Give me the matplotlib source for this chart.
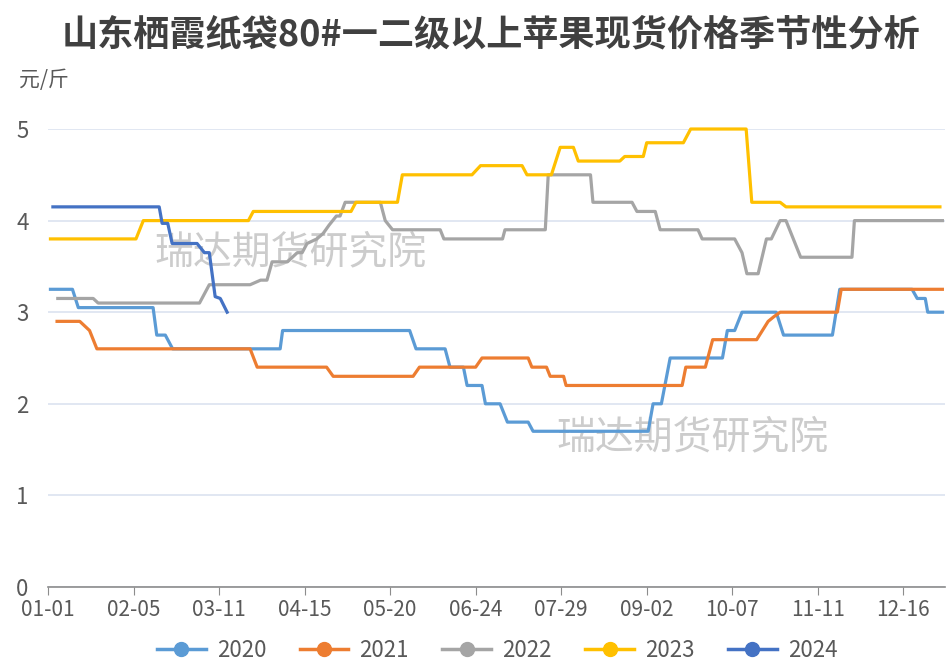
import matplotlib
matplotlib.use('Agg')
import matplotlib.pyplot as plt
from matplotlib.lines import Line2D

plt.rcParams['font.family'] = ['Noto Sans CJK SC', 'DejaVu Sans']

# 横轴: 一年中的第几天 (0 = 01-01), 纵轴: 元/斤
tick_days = [0, 35, 70, 105, 140, 175, 210, 245, 280, 315, 350]
tick_labels = ['01-01', '02-05', '03-11', '04-15', '05-20', '06-24',
               '07-29', '09-02', '10-07', '11-11', '12-16']

years = ['2020', '2021', '2022', '2023', '2024']
colors = ['#5B9BD5', '#ED7D31', '#A5A5A5', '#FFC000', '#4472C4']

# 各年价格拐点 (从图上读出来的)
d2020 = [1, 10, 12.4, 43, 44.5, 48, 51, 95, 96, 148, 150.6, 162.5, 164.5, 170, 171.5,
         177.6, 179, 185, 188, 196.5, 198.5, 245.6, 247.6, 251, 254.6, 276, 278, 281,
         284, 298, 301, 321, 324, 353.6, 355.7, 359, 360, 366]
v2020 = [3.25, 3.25, 3.05, 3.05, 2.75, 2.75, 2.6, 2.6, 2.8, 2.8, 2.6, 2.6, 2.4, 2.4, 2.2,
         2.2, 2.0, 2.0, 1.8, 1.8, 1.7, 1.7, 2.0, 2.0, 2.5, 2.5, 2.8, 2.8,
         3.0, 3.0, 2.75, 2.75, 3.25, 3.25, 3.15, 3.15, 3.0, 3.0]

d2021 = [3.7, 13, 17, 20, 82.7, 85.6, 114, 116.7, 149.4, 152, 175, 177.6, 196.5, 198,
         204, 205.5, 211, 212, 259.5, 261, 269, 272, 290, 294.7, 297, 299.6, 323, 324.6, 366]
v2021 = [2.9, 2.9, 2.8, 2.6, 2.6, 2.4, 2.4, 2.3, 2.3, 2.4, 2.4, 2.5, 2.5, 2.4,
         2.4, 2.3, 2.3, 2.2, 2.2, 2.4, 2.4, 2.7, 2.7, 2.9, 2.95, 3.0, 3.0, 3.25, 3.25]

d2022 = [4, 18.5, 20.5, 62, 66, 82.7, 87, 89.6, 91.7, 98, 102, 104, 106, 110, 112.6, 115,
         118, 119.5, 121.6, 136, 138, 141, 160.5, 162, 186, 187, 203.5, 204.7, 222, 223,
         239, 241, 248.5, 250.5, 266, 267.7, 281, 284, 286, 290.6, 294, 296, 299.6, 302,
         308, 329, 330, 366]
v2022 = [3.15, 3.15, 3.1, 3.1, 3.3, 3.3, 3.35, 3.35, 3.55, 3.55, 3.65, 3.65, 3.75, 3.8, 3.86, 3.95,
         4.05, 4.05, 4.2, 4.2, 4.0, 3.9, 3.9, 3.8, 3.8, 3.9, 3.9, 4.5, 4.5, 4.2,
         4.2, 4.1, 4.1, 3.9, 3.9, 3.8, 3.8, 3.65, 3.42, 3.42, 3.8, 3.8, 4.0, 4.0,
         3.6, 3.6, 4.0, 4.0]

d2023 = [1, 36, 39, 82, 84, 124, 126, 143, 145, 173.5, 177, 194, 196, 206, 209.6, 215,
         217, 234, 236, 243.6, 245, 260, 263, 285.7, 288, 299.6, 302, 365]
v2023 = [3.8, 3.8, 4.0, 4.0, 4.1, 4.1, 4.2, 4.2, 4.5, 4.5, 4.6, 4.6, 4.5, 4.5, 4.8, 4.8,
         4.65, 4.65, 4.7, 4.7, 4.85, 4.85, 5.0, 5.0, 4.2, 4.2, 4.15, 4.15]

d2024 = [2, 45.5, 46.7, 49, 50.8, 61, 64, 66, 68.4, 70.5, 73.3]
v2024 = [4.15, 4.15, 3.97, 3.97, 3.75, 3.75, 3.65, 3.65, 3.17, 3.15, 3.0]

series = [(d2020, v2020), (d2021, v2021), (d2022, v2022), (d2023, v2023), (d2024, v2024)]

fig = plt.figure(figsize=(9.47, 6.64), dpi=100)
ax = fig.add_axes([0.0507, 0.116, 0.947, 0.6897])

for (d, v), c in zip(series, colors):
    ax.plot(d, v, color=c, lw=2.3, solid_joinstyle='round', clip_on=False, zorder=3)

ax.set_xlim(0, 367)
ax.set_ylim(0, 5)
ax.set_yticks([0, 1, 2, 3, 4, 5])
ax.set_xticks(tick_days)
ax.set_xticklabels(tick_labels)
ax.grid(axis='y', color='#dce3f0', lw=1.2)
ax.set_axisbelow(True)
for s in ['left', 'right', 'top']:
    ax.spines[s].set_visible(False)
ax.spines['bottom'].set_color('#8c8c8c')
ax.spines['bottom'].set_linewidth(1.2)
ax.tick_params(axis='y', length=0, labelsize=16, labelcolor='#595959', pad=14)
ax.tick_params(axis='x', length=6, color='#8c8c8c', labelsize=15, labelcolor='#595959', pad=3)

# 水印
for wx, wy in [(0.119, 0.731), (0.567, 0.326)]:
    ax.text(wx, wy, '瑞达期货研究院', transform=ax.transAxes, fontsize=28,
            color='#cccccc', zorder=1, va='center')

fig.text(0.519, 0.947, '山东栖霞纸袋80#一二级以上苹果现货价格季节性分析',
         ha='center', va='center', fontsize=26, fontweight='bold', color='#404040')
fig.text(0.02, 0.88, '元/斤', ha='left', va='center', fontsize=15, color='#595959')

handles = [Line2D([0], [0], color=c, lw=2.5, marker='o', markersize=10) for c in colors]
fig.legend(handles, years, loc='center', bbox_to_anchor=(0.525, 0.02), ncol=5,
           frameon=False, fontsize=16, handlelength=2.2, columnspacing=1.5,
           handletextpad=0.5, labelcolor='#595959')

fig.savefig('out.png', dpi=100)
